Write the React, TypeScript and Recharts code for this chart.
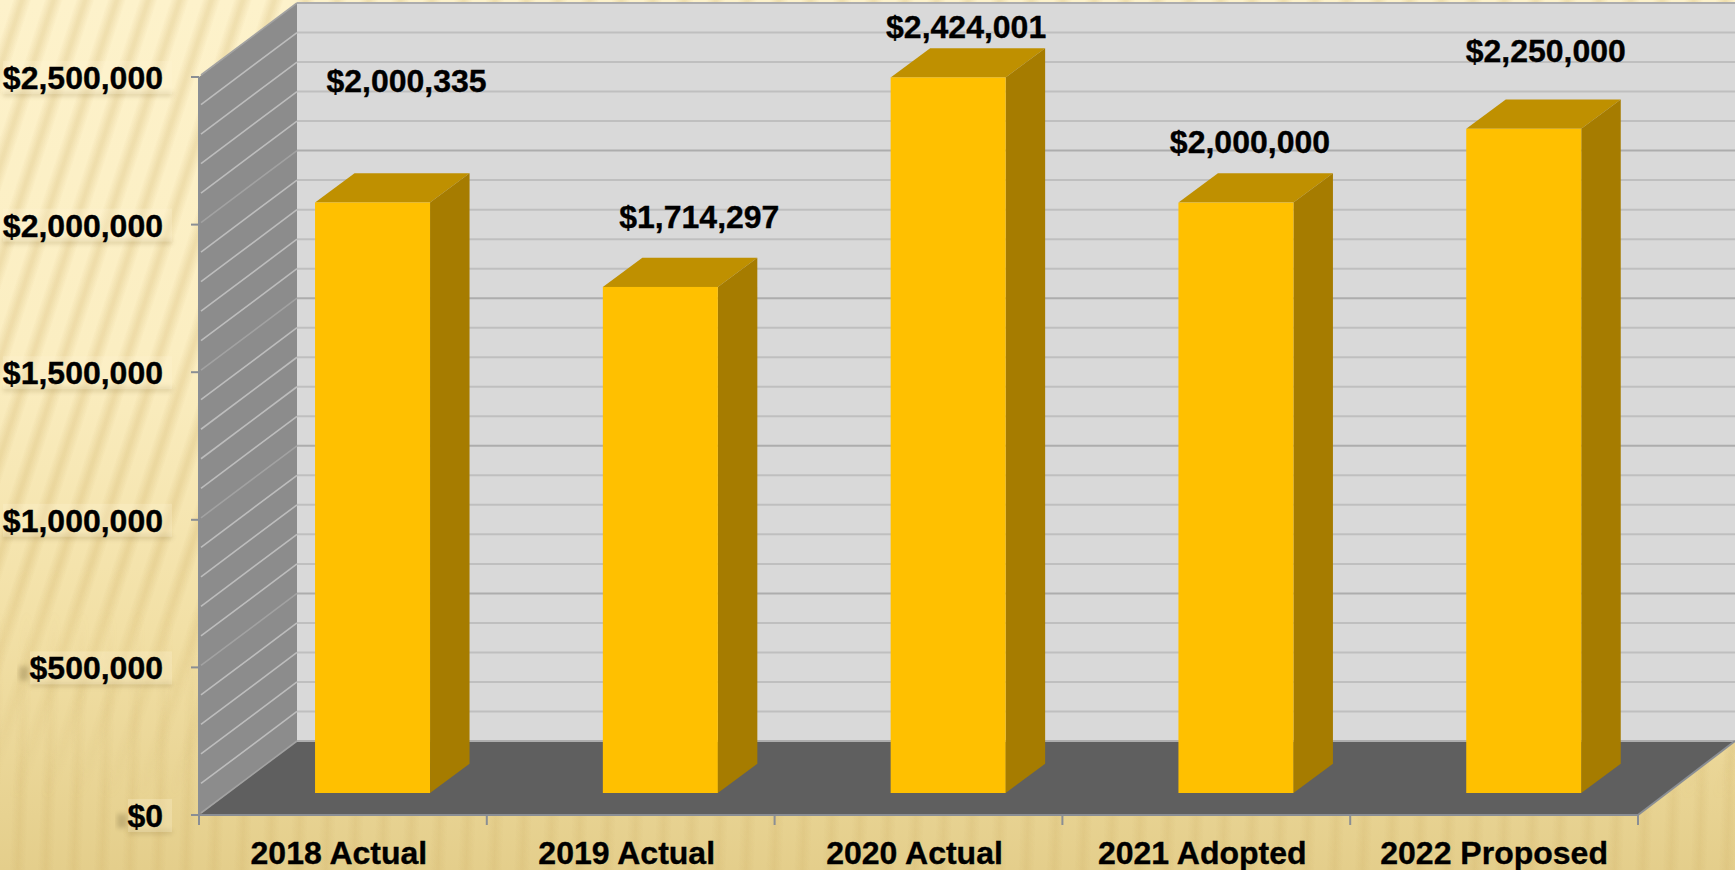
import { BarChart, Bar, XAxis, YAxis, CartesianGrid, LabelList } from "recharts";

const categories = ["2018 Actual", "2019 Actual", "2020 Actual", "2021 Adopted", "2022 Proposed"];
const amounts = [2000335, 1714297, 2424001, 2000000, 2250000];
const valueTicks = [0, 500000, 1000000, 1500000, 2000000, 2500000];
const gridValues = [
  0, 100000, 200000, 300000, 400000, 500000, 600000, 700000, 800000, 900000, 1000000, 1100000, 1200000,
  1300000, 1400000, 1500000, 1600000, 1700000, 1800000, 1900000, 2000000, 2100000, 2200000, 2300000,
  2400000, 2500000,
];

const data = categories.map((name, i) => ({ name, amount: amounts[i] }));

// chart box and front plane of the 3D frame
const W = 1735;
const H = 870;
const LEFT = 199;
const RIGHT = 1638;
const TOP = 77;
const BOTTOM = 815;
// how far the back wall sits behind the front plane
const WALL_DX = 98;
const WALL_DY = 74;
// bars stand part way into the floor and have their own depth
const BAR_SHIFT_X = 29.7;
const BAR_SHIFT_Y = 22;
const BAR_DX = 39.5;
const BAR_DY = 29.3;
// hand placed value labels, relative to the top of the front face
const labelNudge = [
  [34, -122],
  [39, -70],
  [18, -50],
  [14, -61],
  [22, -78],
];
// category text sits a little left of the band centre
const categoryNudge = [-4, -4, -4, -4, 0];

const FONT = "'Liberation Sans', Arial, sans-serif";
const EDGE = "#8a8e94";
const boldText = {
  fontFamily: FONT,
  fontWeight: "bold",
  fontSize: 32,
  fill: "#000",
  stroke: "#000",
  strokeWidth: 0.35,
};

const formatMoney = (v: number) => "$" + v.toLocaleString("en-US");

function Bar3D({ x, y, width, height }: any) {
  const fx = x + BAR_SHIFT_X;
  const fy = y - BAR_SHIFT_Y;
  const r = fx + width;
  const b = fy + height;
  return (
    <g>
      <polygon
        points={`${fx},${fy} ${fx + BAR_DX},${fy - BAR_DY} ${r + BAR_DX},${fy - BAR_DY} ${r},${fy}`}
        fill="#BF9000"
      />
      <polygon
        points={`${r},${fy} ${r + BAR_DX},${fy - BAR_DY} ${r + BAR_DX},${b - BAR_DY} ${r},${b}`}
        fill="#A67C00"
      />
      <rect x={fx} y={fy} width={width} height={height} fill="#FFC000" />
    </g>
  );
}

function GridLine({ x1, y1, index }: any) {
  const major = index % 5 === 0;
  const by = y1 - WALL_DY;
  return (
    <g>
      <line
        x1={x1 + 2}
        y1={y1 - 2}
        x2={x1 + WALL_DX}
        y2={by}
        stroke={major ? "#a2a2a2" : "#bdbdbd"}
        strokeWidth={1.6}
      />
      <line
        x1={x1 + WALL_DX}
        y1={by}
        x2={W}
        y2={by}
        stroke={major ? "#adadad" : "#bfbfbf"}
        strokeWidth={2}
      />
    </g>
  );
}

function ValueTick({ x, y, payload }: any) {
  const text = formatMoney(payload.value);
  const w = text.length === 2 ? 44 : text.length === 8 ? 142 : 169;
  return (
    <g>
      <rect x={172 - w} y={y + 15} width={w} height={4} fill="#8a7440" opacity={0.3} filter="url(#labelBlur)" />
      <rect x={172 - w} y={y - 16} width={w} height={33} fill="#fff6d4" opacity={0.28} />
      {w < 169 ? (
        <rect x={172 - w - 11} y={y - 1} width={10} height={14} fill="#7a6a3c" opacity={0.32} filter="url(#labelBlur)" />
      ) : null}
      <text x={x} y={y + 12} textAnchor="end" {...boldText}>
        {text}
      </text>
    </g>
  );
}

function CategoryTick({ x, y, payload, index }: any) {
  const band = (RIGHT - LEFT) / categories.length;
  const last = index === categories.length - 1;
  return (
    <g>
      <line x1={x - band / 2} y1={y} x2={x - band / 2} y2={y + 10} stroke={EDGE} strokeWidth={2} />
      {last ? <line x1={x + band / 2} y1={y} x2={x + band / 2} y2={y + 10} stroke={EDGE} strokeWidth={2} /> : null}
      <text x={x + categoryNudge[index]} y={y + 49} textAnchor="middle" {...boldText}>
        {payload.value}
      </text>
    </g>
  );
}

function ValueLabel({ x, y, width, value, index }: any) {
  const [dx, dy] = labelNudge[index];
  return (
    <text x={x + BAR_SHIFT_X + width / 2 + dx} y={y - BAR_SHIFT_Y + dy + 11} textAnchor="middle" {...boldText}>
      {formatMoney(value)}
    </text>
  );
}

// parchment backdrop with the blurred diagonal stripes
function Backdrop() {
  return (
    <div
      style={{
        position: "absolute",
        inset: 0,
        overflow: "hidden",
        background: "linear-gradient(180deg, #fdf2cb 0%, #fbeec2 40%, #f2e0a6 72%, #e4ce8b 100%)",
      }}
    >
      <div
        style={{
          position: "absolute",
          inset: 0,
          background:
            "repeating-linear-gradient(108deg, rgba(196,160,80,0) 0px, rgba(196,160,80,0) 12px, rgba(196,160,80,0.22) 20px, rgba(196,160,80,0.22) 22px, rgba(196,160,80,0) 30px)",
          WebkitMaskImage: "linear-gradient(180deg, #000 0%, #000 65%, transparent 92%)",
          maskImage: "linear-gradient(180deg, #000 0%, #000 65%, transparent 92%)",
        }}
      />
      <div
        style={{
          position: "absolute",
          inset: 0,
          background:
            "repeating-linear-gradient(92deg, rgba(190,150,70,0) 0px, rgba(190,150,70,0) 12px, rgba(190,150,70,0.12) 20px, rgba(190,150,70,0) 28px)",
          WebkitMaskImage: "linear-gradient(180deg, transparent 70%, #000 92%)",
          maskImage: "linear-gradient(180deg, transparent 70%, #000 92%)",
        }}
      />
    </div>
  );
}

// back wall, side wall and floor sit under the chart layer
function Frame() {
  const bx = LEFT + WALL_DX;
  const ty = TOP - WALL_DY;
  const fy = BOTTOM - WALL_DY;
  return (
    <svg width={W} height={H} style={{ position: "absolute", left: 0, top: 0 }}>
      <rect x={bx} y={ty} width={W - bx} height={fy - ty} fill="#D9D9D9" />
      <polygon points={`${LEFT},${TOP} ${bx},${ty} ${bx},${fy} ${LEFT},${BOTTOM}`} fill="#8C8C8C" />
      <polygon points={`${LEFT},${BOTTOM} ${bx},${fy} ${W},${fy} ${RIGHT},${BOTTOM}`} fill="#5F5F5F" />
    </svg>
  );
}

export default function App() {
  return (
    <div style={{ position: "fixed", left: 0, top: 0, width: W, height: H, overflow: "hidden" }}>
      <Backdrop />
      <Frame />
      <div style={{ position: "absolute", left: 0, top: 0 }}>
        <BarChart
          width={W}
          height={H}
          data={data}
          margin={{ top: TOP, right: W - RIGHT, bottom: 0, left: 0 }}
          barCategoryGap="30%"
        >
          <defs>
            <filter id="labelBlur" x="-20%" y="-150%" width="140%" height="400%">
              <feGaussianBlur stdDeviation="2.5" />
            </filter>
          </defs>
          <CartesianGrid vertical={false} horizontalValues={gridValues} horizontal={(p: any) => <GridLine key={p.key} {...p} />} />
          <XAxis
            dataKey="name"
            height={H - BOTTOM}
            interval={0}
            tickLine={false}
            tickSize={0}
            tickMargin={0}
            axisLine={{ stroke: EDGE, strokeWidth: 2 }}
            tick={<CategoryTick />}
          />
          <YAxis
            width={LEFT}
            domain={[0, 2500000]}
            ticks={valueTicks}
            tickSize={8}
            tickMargin={28}
            tickLine={{ stroke: EDGE, strokeWidth: 2 }}
            axisLine={{ stroke: EDGE, strokeWidth: 2 }}
            tick={<ValueTick />}
          />
          <Bar dataKey="amount" isAnimationActive={false} shape={<Bar3D />}>
            <LabelList dataKey="amount" content={<ValueLabel />} />
          </Bar>
          <line x1={RIGHT} y1={BOTTOM} x2={W} y2={BOTTOM - WALL_DY} stroke={EDGE} strokeWidth={2} />
        </BarChart>
      </div>
    </div>
  );
}
